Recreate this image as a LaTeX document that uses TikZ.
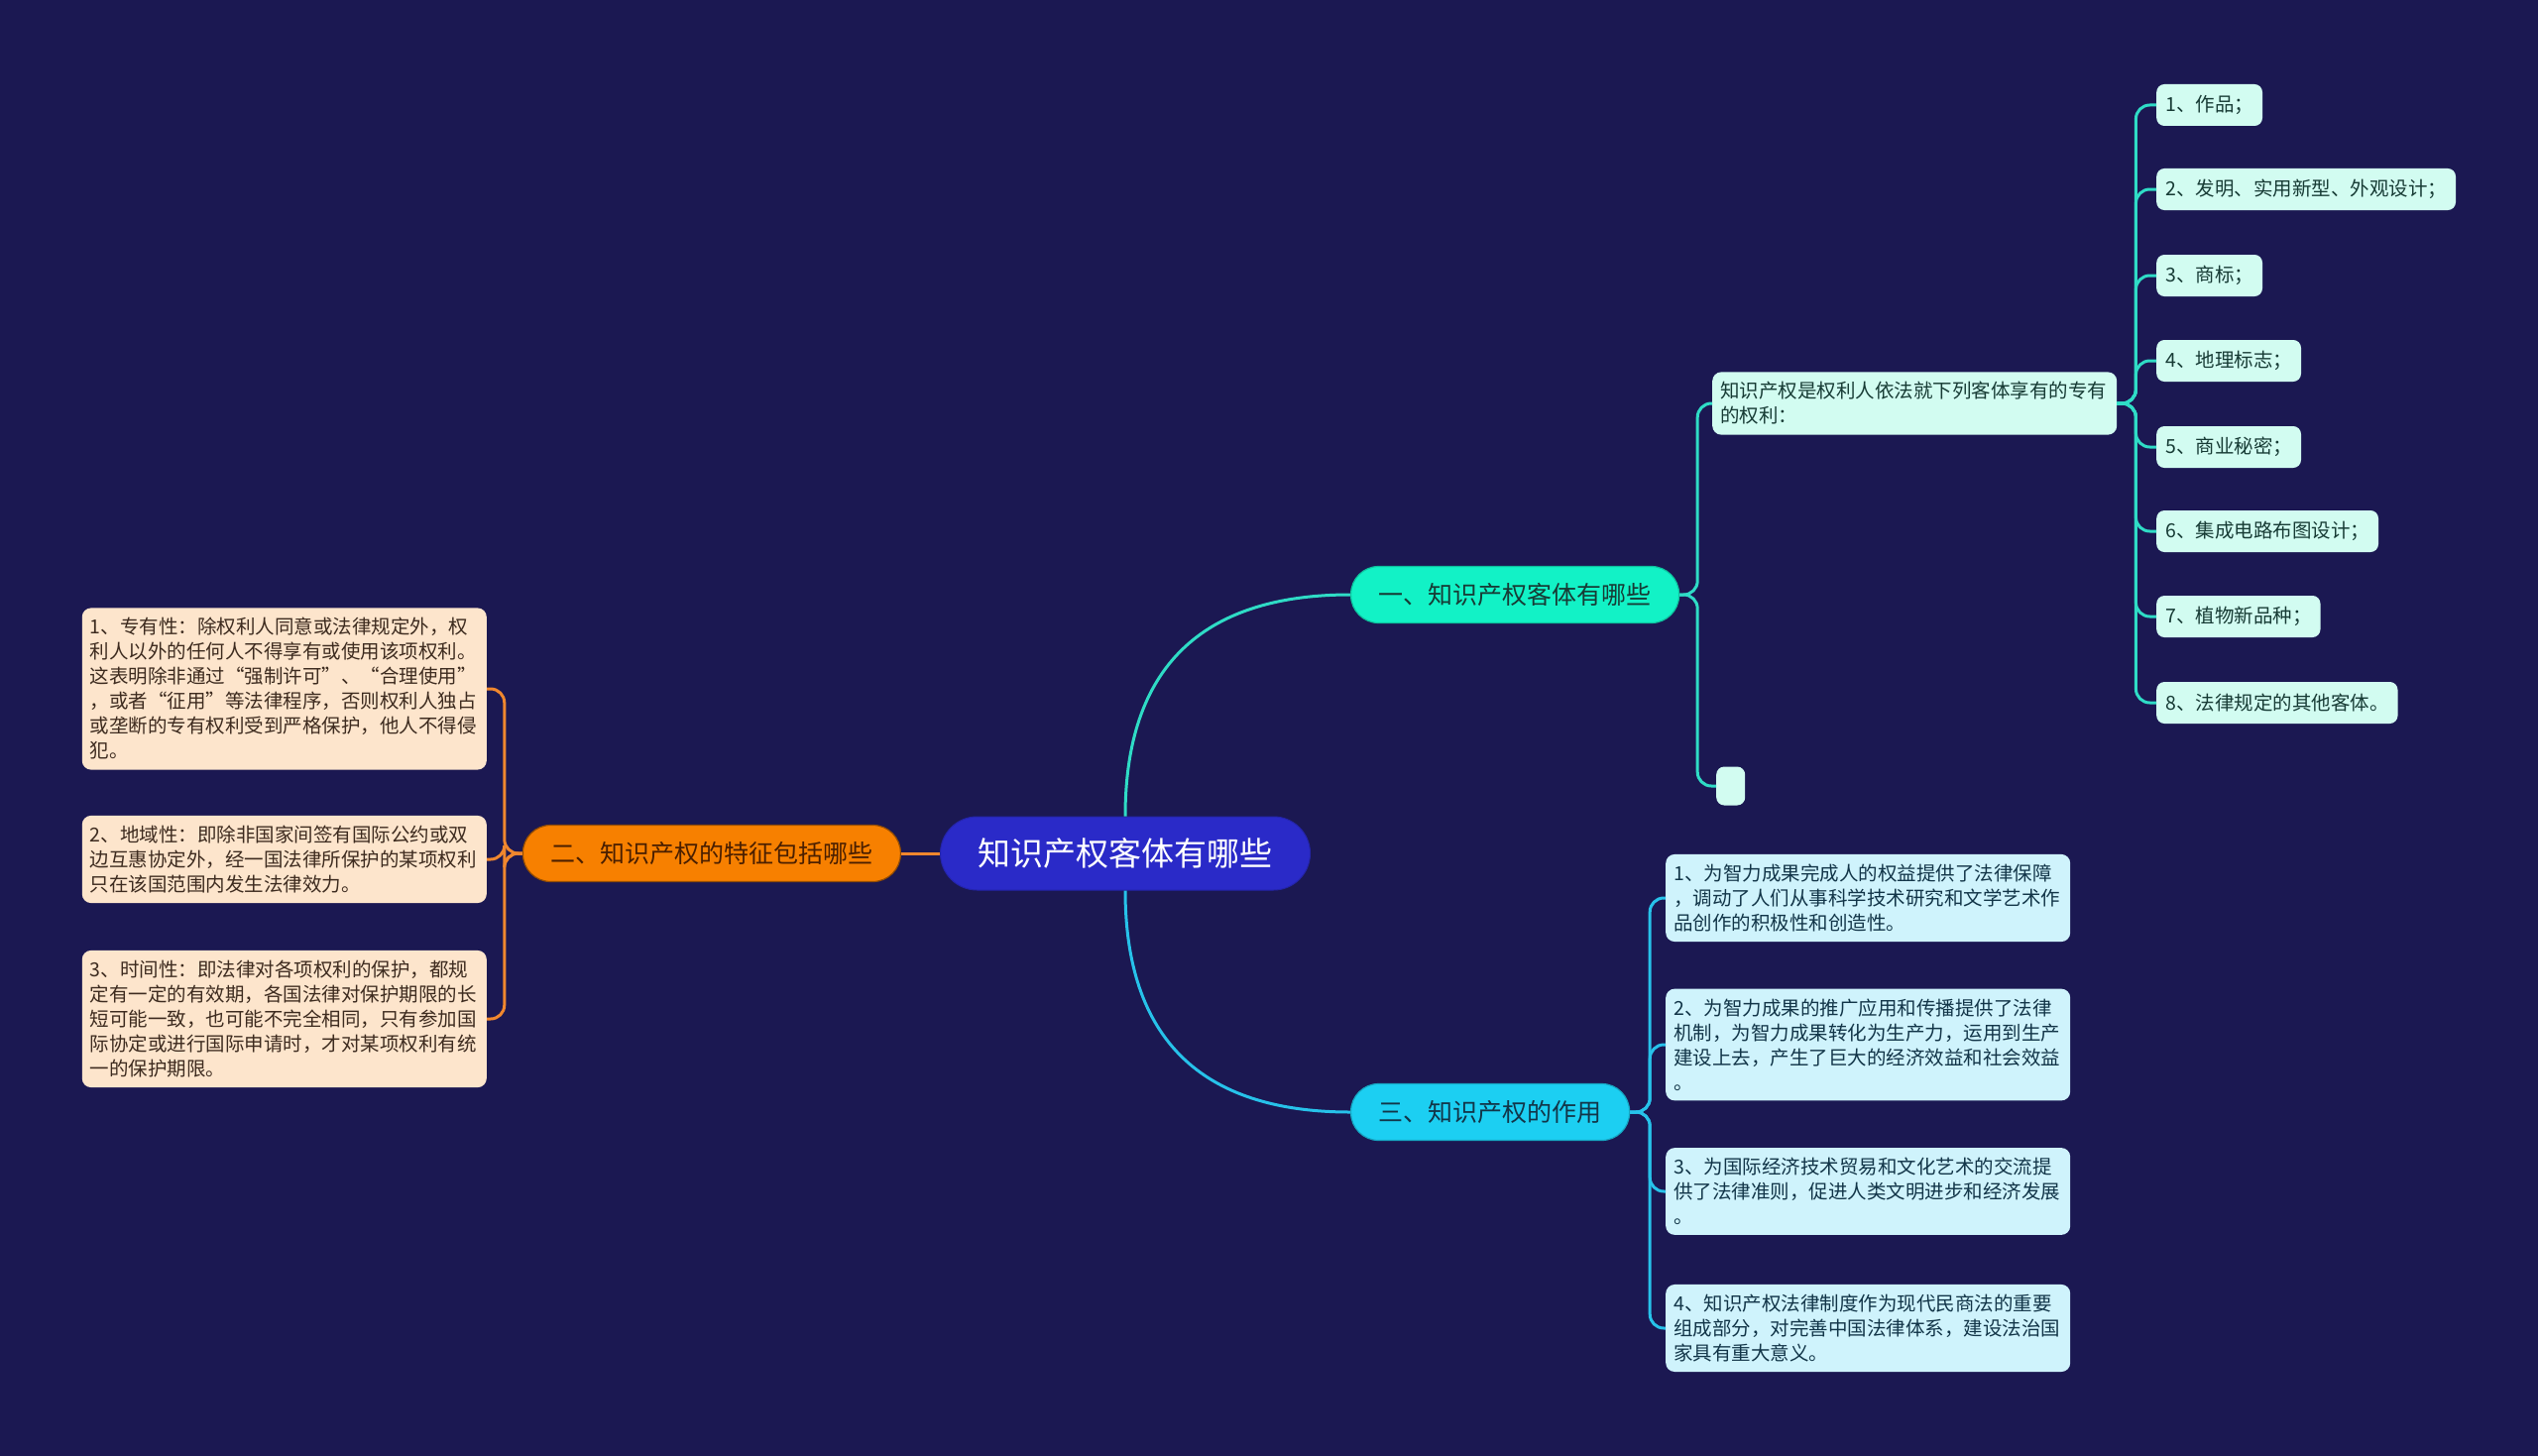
\documentclass[tikz,border=0pt]{standalone}
\usepackage{fontspec}
\setmainfont{Noto Sans CJK SC}
\usepackage{xcolor}
\usetikzlibrary{shapes,positioning}

\definecolor{bg}{HTML}{1B1852}
\definecolor{rootblue}{HTML}{2A2AC8}
\definecolor{topicA}{HTML}{12F2C6}
\definecolor{topicB}{HTML}{F78000}
\definecolor{topicC}{HTML}{1CCFF2}
\definecolor{leafA}{HTML}{D2FCF1}
\definecolor{leafB}{HTML}{FDE5CC}
\definecolor{leafC}{HTML}{CFF3FC}
\definecolor{lineA}{HTML}{2FDCC6}
\definecolor{lineB}{HTML}{F0872E}
\definecolor{lineC}{HTML}{27C2EA}
\definecolor{textA}{HTML}{173B35}
\definecolor{textB}{HTML}{4A1F00}
\definecolor{textC}{HTML}{123548}
\definecolor{leafBtext}{HTML}{3D2B1F}

\begin{document}
\begin{tikzpicture}[x=1pt,y=-1pt]
  % Styles
  \tikzset{
    rootnode/.style={rectangle, fill=rootblue, draw=rootblue!85!black, line width=1pt, rounded corners=37pt,
      minimum height=74pt, inner xsep=38pt, inner ysep=0pt, text=white, font=\fontsize{33}{40}\selectfont},
    topic/.style={rectangle, rounded corners=28pt, minimum height=57pt, inner xsep=28pt, inner ysep=0pt,
      line width=1.2pt, font=\fontsize{25}{30}\selectfont},
    leaf/.style={rectangle, rounded corners=9pt, inner xsep=8pt, inner ysep=10pt, text width=392pt,
      align=left, font=\fontsize{19.5}{25}\selectfont},
    item/.style={rectangle, rounded corners=8pt, inner xsep=9pt, inner ysep=0pt, minimum height=42pt,
      fill=leafA, text=textA, font=\fontsize{19.5}{25}\selectfont},
    link/.style={line width=3pt, rounded corners=14pt}
  }

  % Background
  \useasboundingbox (0,0) rectangle (2560,1469);
  \fill[bg] (0,0) rectangle (2560,1469);

  % Root and main topics
  \node[rootnode] (root) at (1135,861) {知识产权客体有哪些};
  \node[topic, fill=topicA, draw=topicA!80!black, text=textA, anchor=west] (topic1) at (1362,600) {一、知识产权客体有哪些};
  \node[topic, fill=topicB, draw=topicB!60!black, text=textB, anchor=east] (topic2) at (909,861) {二、知识产权的特征包括哪些};
  \node[topic, fill=topicC, draw=topicC!80!black, text=textC, anchor=west] (topic3) at (1362,1122) {三、知识产权的作用};

  % Topic 1: objects
  \node[leaf, fill=leafA, text=textA, anchor=west] (obj) at (1727,407) {知识产权是权利人依法就下列客体享有的专有\\的权利：};
  \node[item, minimum width=29pt, minimum height=39pt, inner xsep=0pt, anchor=west] (blank) at (1731,793) {};
  \node[item, anchor=west] (item1) at (2175,106) {1、作品；};
  \node[item, anchor=west] (item2) at (2175,191) {2、发明、实用新型、外观设计；};
  \node[item, anchor=west] (item3) at (2175,278) {3、商标；};
  \node[item, anchor=west] (item4) at (2175,364) {4、地理标志；};
  \node[item, anchor=west] (item5) at (2175,451) {5、商业秘密；};
  \node[item, anchor=west] (item6) at (2175,536) {6、集成电路布图设计；};
  \node[item, anchor=west] (item7) at (2175,622) {7、植物新品种；};
  \node[item, anchor=west] (item8) at (2175,709) {8、法律规定的其他客体。};

  % Topic 2: features
  \node[leaf, fill=leafB, text=leafBtext, anchor=east] (feat1) at (491,695) {1、专有性：除权利人同意或法律规定外，权\\利人以外的任何人不得享有或使用该项权利。\\这表明除非通过“强制许可”、“合理使用”\\，或者“征用”等法律程序，否则权利人独占\\或垄断的专有权利受到严格保护，他人不得侵\\犯。};
  \node[leaf, fill=leafB, text=leafBtext, anchor=east] (feat2) at (491,867) {2、地域性：即除非国家间签有国际公约或双\\边互惠协定外，经一国法律所保护的某项权利\\只在该国范围内发生法律效力。};
  \node[leaf, fill=leafB, text=leafBtext, anchor=east] (feat3) at (491,1028) {3、时间性：即法律对各项权利的保护，都规\\定有一定的有效期，各国法律对保护期限的长\\短可能一致，也可能不完全相同，只有参加国\\际协定或进行国际申请时，才对某项权利有统\\一的保护期限。};

  % Topic 3: roles
  \node[leaf, fill=leafC, text=textC, anchor=west] (role1) at (1680,906) {1、为智力成果完成人的权益提供了法律保障\\，调动了人们从事科学技术研究和文学艺术作\\品创作的积极性和创造性。};
  \node[leaf, fill=leafC, text=textC, anchor=west] (role2) at (1680,1054) {2、为智力成果的推广应用和传播提供了法律\\机制，为智力成果转化为生产力，运用到生产\\建设上去，产生了巨大的经济效益和社会效益\\。};
  \node[leaf, fill=leafC, text=textC, anchor=west] (role3) at (1680,1202) {3、为国际经济技术贸易和文化艺术的交流提\\供了法律准则，促进人类文明进步和经济发展\\。};
  \node[leaf, fill=leafC, text=textC, anchor=west] (role4) at (1680,1340) {4、知识产权法律制度作为现代民商法的重要\\组成部分，对完善中国法律体系，建设法治国\\家具有重大意义。};

  % Links from root
  \draw[link, lineA] (root.north) .. controls +(0,-150) and +(-150,0) .. (topic1.west);
  \draw[link, lineB] (root.west) -- (topic2.east);
  \draw[link, lineC] (root.south) .. controls +(0,150) and +(-150,0) .. (topic3.west);

  % Links of topic 1
  \draw[link, lineA] (topic1.east) -- ++(18,0) |- (obj.west);
  \draw[link, lineA] (topic1.east) -- ++(18,0) |- (blank.west);
  \draw[link, lineA] (obj.east) -- ++(19,0) |- (item1.west);
  \draw[link, lineA] (obj.east) -- ++(19,0) |- (item2.west);
  \draw[link, lineA] (obj.east) -- ++(19,0) |- (item3.west);
  \draw[link, lineA] (obj.east) -- ++(19,0) |- (item4.west);
  \draw[link, lineA] (obj.east) -- ++(19,0) |- (item5.west);
  \draw[link, lineA] (obj.east) -- ++(19,0) |- (item6.west);
  \draw[link, lineA] (obj.east) -- ++(19,0) |- (item7.west);
  \draw[link, lineA] (obj.east) -- ++(19,0) |- (item8.west);

  % Links of topic 2
  \draw[link, lineB] (topic2.west) -- ++(-18,0) |- (feat1.east);
  \draw[link, lineB] (topic2.west) -- ++(-18,0) |- (feat2.east);
  \draw[link, lineB] (topic2.west) -- ++(-18,0) |- (feat3.east);

  % Links of topic 3
  \draw[link, lineC] (topic3.east) -- ++(20,0) |- (role1.west);
  \draw[link, lineC] (topic3.east) -- ++(20,0) |- (role2.west);
  \draw[link, lineC] (topic3.east) -- ++(20,0) |- (role3.west);
  \draw[link, lineC] (topic3.east) -- ++(20,0) |- (role4.west);

\end{tikzpicture}
\end{document}
